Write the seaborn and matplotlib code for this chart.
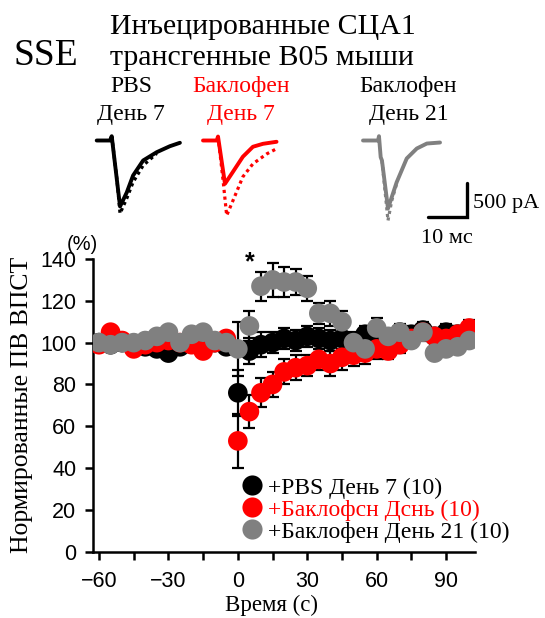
import numpy as np
import pandas as pd
import matplotlib
matplotlib.use("Agg")
import matplotlib.pyplot as plt
import seaborn as sns
from matplotlib.lines import Line2D

# ---------------- data ----------------
time = list(range(-60, 101, 5))

pbs_d7 = [100, 99, 100, 99, 98, 97, 95, 98, 100, 99, 100, 98,
          76, 96, 99, 100, 102, 101, 103, 102, 101, 102, 100, 104, 103, 102, 105, 104, 106, 103, 105, 104, 103]
pbs_d7_err = [2, 2, 2, 2, 2, 2, 2, 2, 2, 2, 2, 2,
              11, 6, 6, 5, 5, 5, 5, 5, 5, 5, 5, 4, 4, 4, 4, 4, 4, 4, 4, 4, 4]

bac_d7 = [99, 105, 101, 97, 99, 100, 101, 100, 99, 96, 100, 102,
          53, 67, 76, 80, 86, 88, 89, 92, 90, 93, 94, 95, 97, 96, 99, 102, 105, 103, 102, 104, 107]
bac_d7_err = [2, 2, 2, 2, 2, 2, 2, 2, 2, 2, 2, 2,
              13, 8, 7, 6, 6, 6, 5, 5, 6, 6, 5, 5, 5, 4, 4, 4, 4, 4, 4, 4, 4]

bac_d21 = [100, 99, 100, 100, 101, 103, 105, 100, 104, 105, 101, 100,
           97, 108, 127, 130, 129, 129, 126, 114, 114, 110, 100, 97, 107, 103, 105, 101, 105, 95, 97, 98, 101]
bac_d21_err = [2, 2, 2, 2, 2, 2, 2, 2, 2, 2, 2, 2,
               13, 7, 7, 8, 7, 6, 6, 5, 6, 5, 4, 4, 5, 3, 3, 3, 3, 3, 3, 3, 3]

series_names = ["+PBS День 7 (10)", "+Баклофсн Дснь (10)", "+Баклофен День 21 (10)"]
series_vals = [pbs_d7, bac_d7, bac_d21]
series_errs = [pbs_d7_err, bac_d7_err, bac_d21_err]
series_colors = ["#000000", "#ff0000", "#808080"]
legend_text_colors = ["#000000", "#ff0000", "#000000"]

y_ticks = [0, 20, 40, 60, 80, 100, 120, 140]
x_ticks = [-60, -30, 0, 30, 60, 90]

# example EPSC traces (time in ms, current in pA)
tr_pbs_t = [0, 3.44, 3.88, 6.03, 7.76, 9.4, 12.0, 15.5, 18.9, 21.5]
tr_pbs_solid = [0, 0, 64, -980, -773, -520, -297, -174, -85, -34]
tr_pbs_dot_t = [3.9, 5.25, 6.03, 7.76, 9.4, 12.0, 15.5]
tr_pbs_dot = [64, -594, -1085, -862, -620, -371, -193]

tr_bac_t = [0, 3.54, 3.88, 5.68, 7.75, 10.3, 12.9, 15.5, 19.0]
tr_bac_solid = [0, 0, 59, -643, -464, -241, -93, -49, -19]
tr_bac_dot_t = [3.9, 5.2, 6.12, 7.75, 10.3, 12.9, 16.5, 19.0]
tr_bac_dot = [59, -600, -1114, -892, -539, -346, -198, -123]

tr_d21_t = [0, 3.88, 4.13, 4.57, 4.9, 6.46, 8.7, 11.3, 13.9, 16.5, 19.9]
tr_d21_solid = [0, 0, 64, -248, -297, -1010, -620, -267, -119, -45, -30]
tr_d21_dot_t = [4.9, 6.46, 7.4, 8.7]
tr_d21_dot = [-297, -1189, -900, -640]

# ---------------- figure ----------------
W, H = 545, 618
sns.set_theme(style="ticks")
plt.rcParams['font.family'] = ['Liberation Serif', 'DejaVu Serif']
plt.rcParams.update({"text.color": "black", "axes.labelcolor": "black",
                     "xtick.color": "black", "ytick.color": "black",
                     "axes.edgecolor": "black"})
fig = plt.figure(figsize=(W / 100, H / 100), dpi=100)


def fx(x):
    return x / W


def fy(y):
    return 1 - y / H


SANS = ['Liberation Sans', 'DejaVu Sans']
SERIF = ['Liberation Serif', 'DejaVu Serif']

AX_L, AX_R, AX_T, AX_B = 93, 475, 259, 551.7
ax = fig.add_axes([fx(AX_L), fy(AX_B), fx(AX_R) - fx(AX_L), fy(AX_T) - fy(AX_B)])

rows = []
for name, vals, errs in zip(series_names, series_vals, series_errs):
    for t, v, e in zip(time, vals, errs):
        rows.append({"time": t, "value": v, "err": e, "group": name})
df = pd.DataFrame(rows)

for name, col in zip(series_names, series_colors):
    d = df[df.group == name]
    ax.errorbar(d["time"], d["value"], yerr=d["err"], fmt="none",
                ecolor="black", elinewidth=1.6, capsize=4, capthick=1.6, zorder=2)
    sns.scatterplot(data=d, x="time", y="value", color=col, s=200,
                    edgecolor="none", linewidth=0, ax=ax, zorder=3, legend=False)

ax.set_xlim(-62.6, 102.5)
ax.set_ylim(0, 140)
ax.set_yticks(y_ticks)
ax.set_xticks(x_ticks)
ax.set_xticks([-45, -15, 15, 45, 75], minor=True)
ax.set_yticklabels([str(v) for v in y_ticks], fontfamily=SANS, fontsize=15.5)
ax.set_xticklabels([str(v).replace("-", "\u2212") for v in x_ticks], fontfamily=SANS, fontsize=15.5)
ax.tick_params(axis="both", which="both", direction="out", width=1.8, color="black",
               labelcolor="black")
ax.tick_params(axis="both", which="major", length=6)
ax.tick_params(axis="y", which="major", pad=6)
ax.tick_params(axis="x", which="both", length=6, pad=8)
for s in ["left", "bottom"]:
    ax.spines[s].set_linewidth(1.8)
    ax.spines[s].set_color("black")
for s in ["top", "right"]:
    ax.spines[s].set_visible(False)
ax.set_xlabel("Время (с)", fontfamily=SERIF, fontsize=16.5, color="black")
ax.xaxis.set_label_coords((271.5 - AX_L) / (AX_R - AX_L), (AX_B - 605) / (AX_B - AX_T))
ax.xaxis.label.set_va("center")
ax.set_ylabel("Нормированные ПВ ВПСТ", fontfamily=SERIF, fontsize=18.5, color="black")
ax.yaxis.set_label_coords((22 - AX_L) / (AX_R - AX_L), 0.5)
ax.yaxis.label.set_va("center")
ax.patch.set_alpha(0)

# legend
LEG_FS = 17
handles = [Line2D([0], [0], marker="o", linestyle="none", markersize=14.5,
                  markerfacecolor=c, markeredgecolor="none") for c in series_colors]
leg = ax.legend(handles, series_names, loc="upper left",
                bbox_to_anchor=((240 - AX_L) / (AX_R - AX_L), (AX_B - 477) / (AX_B - AX_T)),
                bbox_transform=ax.transAxes, frameon=False,
                prop={"family": SERIF, "size": LEG_FS}, handletextpad=0.19,
                labelspacing=0.02, borderaxespad=0, borderpad=0, handlelength=1.0)
for txt, c in zip(leg.get_texts(), legend_text_colors):
    txt.set_color(c)

# annotations
fig.text(fx(82), fy(244), "(%)", fontfamily=SANS, fontsize=14.5, ha="center", va="center")
fig.text(fx(250), fy(262), "*", fontfamily=SANS, fontsize=18, ha="center", va="center",
         fontweight="bold")

# header texts
fig.text(fx(14), fy(65), "SSE", fontfamily=SERIF, fontsize=27, ha="left", va="baseline")
fig.text(fx(110), fy(33.5), "Инъецированные СЦА1", fontfamily=SERIF, fontsize=21.5,
         ha="left", va="baseline")
fig.text(fx(110), fy(65), "трансгенные B05 мыши", fontfamily=SERIF, fontsize=21.5,
         ha="left", va="baseline")
for cx, l1, l2, col in [(131, "PBS", "День 7", "black"),
                        (241, "Баклофен", "День 7", "#ff0000"),
                        (408.5, "Баклофен", "День 21", "black")]:
    fig.text(fx(cx), fy(92), l1, fontfamily=SERIF, fontsize=17, ha="center", va="baseline", color=col)
    fig.text(fx(cx), fy(120), l2, fontfamily=SERIF, fontsize=17, ha="center", va="baseline", color=col)

# trace axes: x in ms (3.87 px/ms), y in pA (0.0673 px/pA)
px_per_ms = 3.87
px_per_pa = 0.0673
tx0, tx1, ty0, ty1 = 90, 490, 125, 230
tax = fig.add_axes([fx(tx0), fy(ty1), fx(tx1) - fx(tx0), fy(ty0) - fy(ty1)])
base_px = 140.5
tax.set_xlim(0, (tx1 - tx0) / px_per_ms)
tax.set_ylim(-(ty1 - base_px) / px_per_pa, (base_px - ty0) / px_per_pa)
tax.axis("off")

for off_px, tt, ys, tdt, yd, col in [
    (96.7, tr_pbs_t, tr_pbs_solid, tr_pbs_dot_t, tr_pbs_dot, "black"),
    (203, tr_bac_t, tr_bac_solid, tr_bac_dot_t, tr_bac_dot, "#ff0000"),
    (363, tr_d21_t, tr_d21_solid, tr_d21_dot_t, tr_d21_dot, "#808080"),
]:
    off = (off_px - tx0) / px_per_ms
    sns.lineplot(x=[off + t for t in tdt], y=yd, ax=tax, color=col, linewidth=2.3,
                 linestyle=(0, (1, 1.1)), sort=False)
    sns.lineplot(x=[off + t for t in tt], y=ys, ax=tax, color=col, linewidth=2.8, sort=False)

# scale bar: 10 ms, 500 pA
sb_x = (466.7 - tx0) / px_per_ms
sb_y = -(216.7 - base_px) / px_per_pa
tax.plot([sb_x - 10, sb_x, sb_x], [sb_y, sb_y, sb_y + 500], color="black", linewidth=2.4,
         solid_joinstyle="miter")
fig.text(fx(473), fy(208), "500 pA", fontfamily=SERIF, fontsize=16, ha="left", va="baseline")
fig.text(fx(447), fy(243), "10 мс", fontfamily=SERIF, fontsize=16, ha="center", va="baseline")

fig.savefig("out.png", dpi=100)
